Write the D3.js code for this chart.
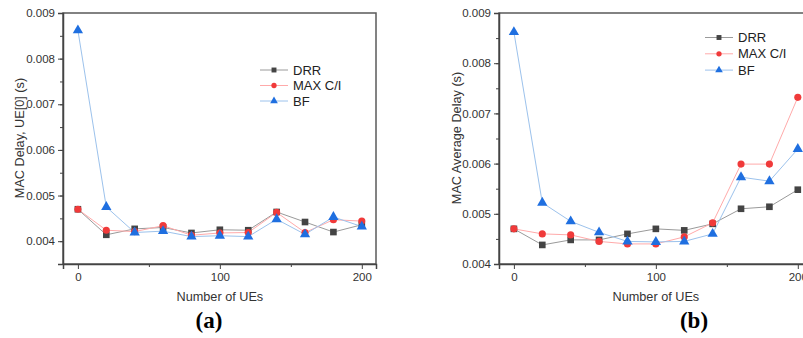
<!DOCTYPE html>
<html>
<head>
<meta charset="utf-8">
<script src="https://cdn.jsdelivr.net/npm/d3@7"></script>
<style>
  body { margin: 0; background: #fff; }
  svg { display: block; font-family: "Liberation Sans", Arial, sans-serif; }
</style>
</head>
<body>
<svg id="chart" width="803" height="338"></svg>
<script>
var ues = [0, 20, 40, 60, 80, 100, 120, 140, 160, 180, 200];

// (a) MAC delay of UE[0]
var drrA = [0.00470, 0.00414, 0.00427, 0.00430, 0.00418, 0.00425, 0.00424, 0.00464, 0.00442, 0.00420, 0.00436];
var maxA = [0.00470, 0.00424, 0.00421, 0.00434, 0.00413, 0.00418, 0.00419, 0.00463, 0.00419, 0.00447, 0.00444];
var bfA  = [0.00862, 0.00475, 0.00419, 0.00422, 0.00410, 0.00412, 0.00410, 0.00448, 0.00415, 0.00453, 0.00432];

// (b) MAC average delay
var drrB = [0.00470, 0.00438, 0.00448, 0.00448, 0.00460, 0.00470, 0.00467, 0.00480, 0.00510, 0.00514, 0.00548];
var maxB = [0.00470, 0.00460, 0.00458, 0.00445, 0.00440, 0.00440, 0.00454, 0.00482, 0.00599, 0.00599, 0.00732];
var bfB  = [0.00862, 0.00522, 0.00485, 0.00463, 0.00445, 0.00444, 0.00445, 0.00460, 0.00573, 0.00565, 0.00629];

var xTicks = [0, 100, 200];
var xMinor = [50, 150];
var yTicksA = [0.004, 0.005, 0.006, 0.007, 0.008, 0.009];
var yTicksB = [0.004, 0.005, 0.006, 0.007, 0.008, 0.009];
var seriesNames = ["DRR", "MAX C/I", "BF"];

var styles = [
  { line: "#9a9a9a", fill: "#444444", shape: d3.symbolSquare, size: 44 },
  { line: "#ffaaaa", fill: "#f03a3a", shape: d3.symbolCircle, size: 40 },
  { line: "#9cc2ec", fill: "#1f6fe0", shape: d3.symbolTriangle, size: 46 }
];

var svg = d3.select("#chart");

function drawPanel(opt) {
  var x = d3.scaleLinear().domain([-10.5, 210]).range([opt.left, opt.left + 313]);
  var y = d3.scaleLinear().domain(opt.yDomain).range([264, 13]);
  var g = svg.append("g");

  // frame
  g.append("rect")
    .attr("x", opt.left).attr("y", 13)
    .attr("width", 313).attr("height", 251)
    .attr("fill", "none").attr("stroke", "#5a5a5a").attr("stroke-width", 1.5);

  // y axis
  var yMinor = [];
  for (var v = opt.yDomain[0]; v < opt.yDomain[1] - 1e-9; v += 0.0005) yMinor.push(+v.toFixed(4));
  g.append("g")
    .attr("transform", "translate(" + opt.left + ",0)")
    .call(d3.axisLeft(y).tickValues(yMinor).tickSize(3).tickFormat(""))
    .call(function(s) { s.select(".domain").remove(); s.selectAll("line").attr("stroke", "#444"); });
  var ya = g.append("g")
    .attr("transform", "translate(" + opt.left + ",0)")
    .call(d3.axisLeft(y).tickValues(opt.yTicks).tickSize(5).tickPadding(3).tickFormat(d3.format(".3f")));
  ya.select(".domain").attr("stroke", "#444").attr("stroke-width", 1.5);
  ya.selectAll("line").attr("stroke", "#444");
  ya.selectAll("text").attr("fill", "#333").style("font-size", "11.5px").style("font-family", "Liberation Sans, Arial, sans-serif");

  // x axis
  g.append("g")
    .attr("transform", "translate(0,264)")
    .call(d3.axisBottom(x).tickValues(xMinor).tickSize(3).tickFormat(""))
    .call(function(s) { s.select(".domain").remove(); s.selectAll("line").attr("stroke", "#444"); });
  var xa = g.append("g")
    .attr("transform", "translate(0,264)")
    .call(d3.axisBottom(x).tickValues(xTicks).tickSize(5).tickPadding(4));
  xa.select(".domain").attr("stroke", "#444").attr("stroke-width", 1.5);
  xa.selectAll("line").attr("stroke", "#444");
  xa.selectAll("text").attr("fill", "#333").style("font-size", "11.5px").style("font-family", "Liberation Sans, Arial, sans-serif");

  // titles
  g.append("text")
    .attr("x", x(100)).attr("y", 301)
    .attr("text-anchor", "middle").attr("fill", "#333")
    .style("font-size", "12.7px")
    .text("Number of UEs");
  g.append("text")
    .attr("transform", "translate(" + opt.yTitleX + ",138) rotate(-90)")
    .attr("text-anchor", "middle").attr("fill", "#333")
    .style("font-size", "12.7px")
    .text(opt.yTitle);
  g.append("text")
    .attr("x", opt.labelX).attr("y", 328)
    .attr("text-anchor", "middle").attr("fill", "#000")
    .style("font-family", "Liberation Serif, 'Times New Roman', serif")
    .style("font-weight", "bold").style("font-size", "23px")
    .text(opt.label);

  // series
  var line = d3.line()
    .x(function(d, i) { return x(ues[i]); })
    .y(function(d) { return y(d); });

  opt.series.forEach(function(vals, k) {
    var st = styles[k];
    g.append("path").datum(vals)
      .attr("d", line).attr("fill", "none")
      .attr("stroke", st.line).attr("stroke-width", 1);
  });
  opt.series.forEach(function(vals, k) {
    var st = styles[k];
    g.selectAll(".m" + k).data(vals).enter().append("path")
      .attr("class", "m" + k)
      .attr("transform", function(d, i) { return "translate(" + x(ues[i]) + "," + y(d) + ")"; })
      .attr("d", d3.symbol().type(st.shape).size(st.size))
      .attr("fill", st.fill);
  });

  // legend
  seriesNames.forEach(function(name, k) {
    var st = styles[k];
    var ly = opt.legY + k * opt.legStep;
    g.append("line")
      .attr("x1", opt.legX).attr("x2", opt.legX + 28)
      .attr("y1", ly).attr("y2", ly)
      .attr("stroke", st.line).attr("stroke-width", 1);
    g.append("path")
      .attr("transform", "translate(" + (opt.legX + 14) + "," + ly + ")")
      .attr("d", d3.symbol().type(st.shape).size(st.size * 0.55))
      .attr("fill", st.fill);
    g.append("text")
      .attr("x", opt.legX + 33).attr("y", ly + 4.6)
      .attr("fill", "#222").style("font-size", "13px")
      .text(name);
  });
}

drawPanel({
  left: 63, yDomain: [0.0035, 0.009], yTicks: yTicksA,
  series: [drrA, maxA, bfA],
  yTitle: "MAC Delay, UE[0] (s)", yTitleX: 24,
  label: "(a)", labelX: 209,
  legX: 260, legY: 70, legStep: 15.5
});

drawPanel({
  left: 499, yDomain: [0.004, 0.009], yTicks: yTicksB,
  series: [drrB, maxB, bfB],
  yTitle: "MAC Average Delay (s)", yTitleX: 461,
  label: "(b)", labelX: 694,
  legX: 705, legY: 37.5, legStep: 16.3
});
</script>
</body>
</html>
